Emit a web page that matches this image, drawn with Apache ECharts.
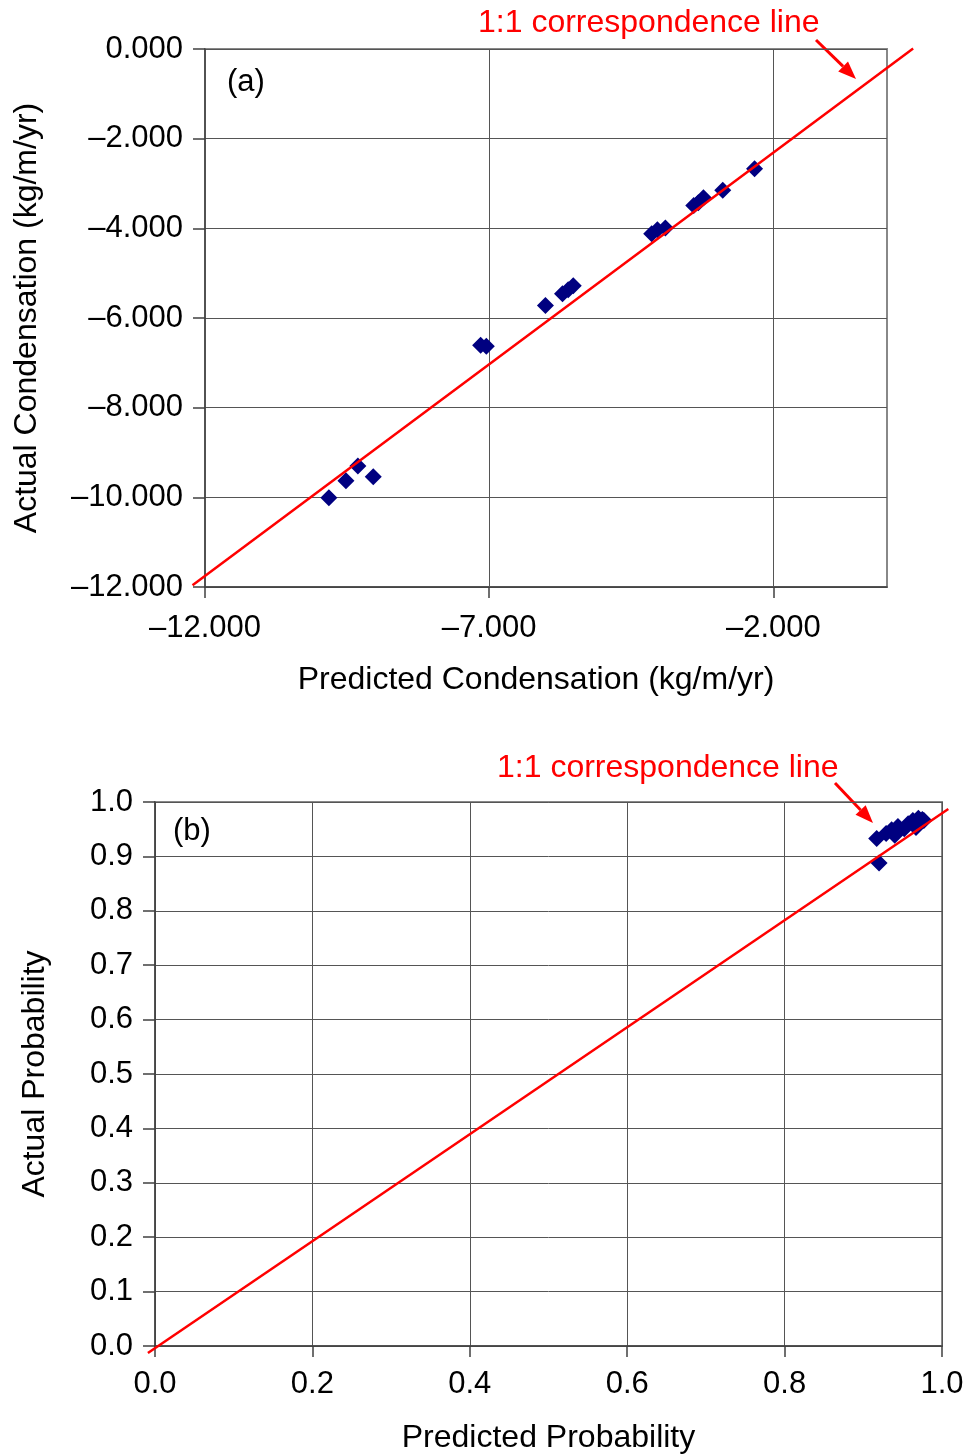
<!DOCTYPE html>
<html><head><meta charset="utf-8">
<script src="https://cdn.jsdelivr.net/npm/echarts@6/dist/echarts.min.js"></script>
<style>html,body{margin:0;padding:0;background:#fff}#c{width:968px;height:1455px}</style>
</head><body><div id="c"></div>
<script>
// ---- Data: panel (a) condensation (kg/m/yr)
const predA = [-9.82, -9.52, -9.31, -9.04, -7.15, -7.05, -6.01, -5.71, -5.61, -5.52, -4.14, -4.04, -3.90, -3.40, -3.32, -3.23, -2.89, -2.33];
const actA  = [-10.01, -9.63, -9.30, -9.54, -6.61, -6.63, -5.72, -5.46, -5.37, -5.28, -4.12, -4.03, -3.99, -3.49, -3.43, -3.32, -3.15, -2.67];
// correspondence line end points as drawn in (a)
const lineAX = [-12.22, 0.46];
const lineAY = [-11.96, 0.01];
const xTicksA = [-12, -7, -2];
const xGridA = [-7, -2];

// ---- Data: panel (b) probability
const predB = [0.920, 0.917, 0.929, 0.936, 0.940, 0.944, 0.952, 0.957, 0.963, 0.967, 0.970, 0.975, 0.977];
const actB  = [0.888, 0.933, 0.942, 0.949, 0.939, 0.955, 0.951, 0.960, 0.966, 0.953, 0.970, 0.968, 0.966];
const lineBX = [-0.009, 1.008];
const lineBY = [-0.013, 0.987];

const FONT = "'Liberation Sans', Arial, Helvetica, sans-serif";
const fmtA = v => (v < 0 ? '\u2013' : '') + Math.abs(v).toFixed(3);
const fmtB = v => Math.abs(v).toFixed(1);

function arrow(x1, y1, x2, y2) {
  const dx = x2 - x1, dy = y2 - y1, L = Math.hypot(dx, dy);
  const ux = dx / L, uy = dy / L, px = -uy, py = ux;
  const hl = 18, hw = 7;
  const bx = x2 - ux * hl, by = y2 - uy * hl;
  return [
    {type: 'line', shape: {x1: x1, y1: y1, x2: bx, y2: by}, style: {stroke: '#ff0000', lineWidth: 3}},
    {type: 'polygon', shape: {points: [[x2, y2], [bx + px * hw, by + py * hw], [bx - px * hw, by - py * hw]]}, style: {fill: '#ff0000'}}
  ];
}

// 1:1 line drawn through the axes' own scales, not clipped to the plot box
function refLine(xs, ys, xi, yi) {
  return {
    type: 'custom', xAxisIndex: xi, yAxisIndex: yi, clip: false, silent: true, z: 4,
    data: xs.map((x, i) => [x, ys[i]]),
    renderItem: function (params, api) {
      if (params.dataIndex !== 0) return null;
      const pts = xs.map((x, i) => api.coord([x, ys[i]]));
      return {type: 'polyline', shape: {points: pts}, style: {stroke: '#ff0000', lineWidth: 2.5, fill: null}};
    }
  };
}

const axisLineStyle = {color: '#404040', width: 1.5};
const gridLineStyle = {color: '#555', width: 1};
const labelStyle = {color: '#000', fontSize: 31, fontFamily: FONT};
const nameStyle = {color: '#000', fontSize: 32, fontFamily: FONT};

const chart = echarts.init(document.getElementById('c'), null, {renderer: 'canvas'});
chart.setOption({
  animation: false,
  backgroundColor: '#fff',
  grid: [
    {left: 205, top: 49, right: 81, height: 538, show: true, borderColor: '#888', borderWidth: 2, backgroundColor: 'transparent'},
    {left: 155, top: 802, width: 787, height: 544, show: true, borderColor: '#888', borderWidth: 2, backgroundColor: 'transparent'}
  ],
  xAxis: [
    {gridIndex: 0, type: 'value', min: -12, max: 0,
     name: 'Predicted Condensation (kg/m/yr)', nameLocation: 'middle', nameGap: 77,
     nameTextStyle: Object.assign({padding: [0, 20, 0, 0]}, nameStyle),
     axisLine: {show: true, onZero: false, lineStyle: axisLineStyle},
     axisTick: {show: true, length: 11, customValues: xTicksA, lineStyle: axisLineStyle},
     axisLabel: Object.assign({margin: 26, customValues: xTicksA, formatter: fmtA}, labelStyle),
     splitLine: {show: false}},
    {gridIndex: 1, type: 'value', min: 0, max: 1, interval: 0.2,
     name: 'Predicted Probability', nameLocation: 'middle', nameGap: 76, nameTextStyle: nameStyle,
     axisLine: {show: true, onZero: false, lineStyle: axisLineStyle},
     axisTick: {show: true, length: 11, lineStyle: axisLineStyle},
     axisLabel: Object.assign({margin: 23, formatter: fmtB}, labelStyle),
     splitLine: {show: true, lineStyle: gridLineStyle}}
  ],
  yAxis: [
    {gridIndex: 0, type: 'value', min: -12, max: 0, interval: 2,
     name: 'Actual Condensation (kg/m/yr)', nameLocation: 'middle', nameGap: 162, nameTextStyle: nameStyle,
     axisLine: {show: true, onZero: false, lineStyle: axisLineStyle},
     axisTick: {show: true, length: 12, lineStyle: axisLineStyle},
     axisLabel: Object.assign({margin: 22, formatter: fmtA}, labelStyle),
     splitLine: {show: true, lineStyle: gridLineStyle}},
    {gridIndex: 1, type: 'value', min: 0, max: 1, interval: 0.1,
     name: 'Actual Probability', nameLocation: 'middle', nameGap: 104, nameTextStyle: nameStyle,
     axisLine: {show: true, onZero: false, lineStyle: axisLineStyle},
     axisTick: {show: true, length: 12, lineStyle: axisLineStyle},
     axisLabel: Object.assign({margin: 22, formatter: fmtB}, labelStyle),
     splitLine: {show: true, lineStyle: gridLineStyle}}
  ],
  series: [
    {type: 'scatter', xAxisIndex: 0, yAxisIndex: 0, symbol: 'diamond', symbolSize: 17,
     itemStyle: {color: '#000080', opacity: 1}, z: 3,
     data: predA.map((x, i) => [x, actA[i]]),
     markLine: {silent: true, symbol: ['none', 'none'], z: 1, label: {show: false},
       lineStyle: {color: '#555', width: 1, type: 'solid'},
       emphasis: {disabled: true},
       data: xGridA.map(v => ({xAxis: v}))}},
    refLine(lineAX, lineAY, 0, 0),
    {type: 'scatter', xAxisIndex: 1, yAxisIndex: 1, symbol: 'diamond', symbolSize: 17,
     itemStyle: {color: '#000080', opacity: 1}, z: 3,
     data: predB.map((x, i) => [x, actB[i]])},
    refLine(lineBX, lineBY, 1, 1)
  ],
  graphic: [
    {type: 'text', x: 227, y: 82, style: {text: '(a)', fontSize: 31, fontFamily: FONT, fill: '#000', align: 'left', verticalAlign: 'middle'}},
    {type: 'text', x: 173, y: 831, style: {text: '(b)', fontSize: 31, fontFamily: FONT, fill: '#000', align: 'left', verticalAlign: 'middle'}},
    {type: 'text', x: 478, y: 23, style: {text: '1:1 correspondence line', fontSize: 32, fontFamily: FONT, fill: '#ff0000', align: 'left', verticalAlign: 'middle'}},
    {type: 'text', x: 497, y: 768, style: {text: '1:1 correspondence line', fontSize: 32, fontFamily: FONT, fill: '#ff0000', align: 'left', verticalAlign: 'middle'}}
  ].concat(arrow(816, 40, 856, 79)).concat(arrow(835, 783, 873, 823))
});
</script>
</body></html>
